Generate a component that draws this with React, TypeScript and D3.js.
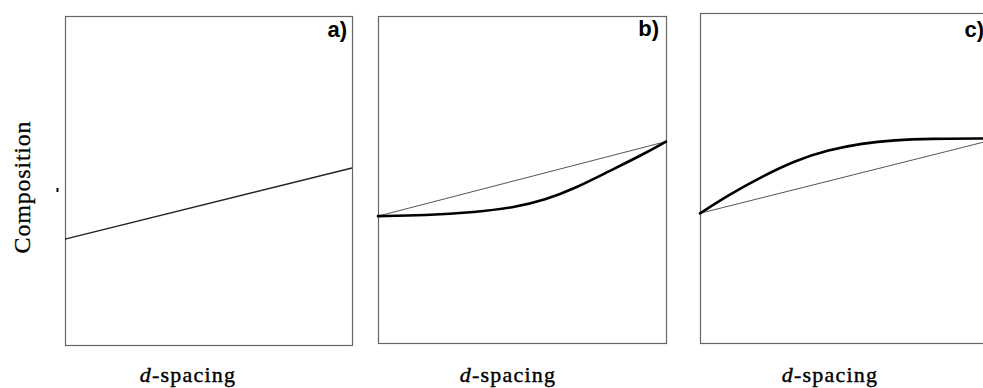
import React, { useEffect, useRef } from 'react';
import * as d3 from 'd3';

// x: relative d-spacing (0..1), y: relative composition (0..1)
const panelLabels = ['a)', 'b)', 'c)'];
const xLabel = 'spacing';
const yLabel = 'Composition';

const lineA = [
  { x: 0, y: 0.322 },
  { x: 1, y: 0.538 },
];

const chordB = [
  { x: 0, y: 0.388 },
  { x: 1, y: 0.616 },
];
const curveB = [
  { x: 0, y: 0.388 },
  { x: 0.163, y: 0.39 },
  { x: 0.337, y: 0.4 },
  { x: 0.476, y: 0.415 },
  { x: 0.58, y: 0.437 },
  { x: 0.684, y: 0.473 },
  { x: 0.799, y: 0.524 },
  { x: 0.917, y: 0.575 },
  { x: 1, y: 0.616 },
];

const chordC = [
  { x: 0, y: 0.393 },
  { x: 1, y: 0.612 },
];
const curveC = [
  { x: 0, y: 0.393 },
  { x: 0.098, y: 0.448 },
  { x: 0.214, y: 0.504 },
  { x: 0.33, y: 0.553 },
  { x: 0.446, y: 0.585 },
  { x: 0.562, y: 0.605 },
  { x: 0.677, y: 0.615 },
  { x: 0.792, y: 0.619 },
  { x: 1, y: 0.62 },
];

const App = () => {
  const svgRef = useRef(null);

  useEffect(() => {
    const svg = d3.select(svgRef.current);
    svg.selectAll('*').remove();

    const panels = [
      { left: 65, top: 16, w: 287, h: 329, labelX: 347, labelY: 37, xLabelX: 188, thin: lineA, thick: null, thinColor: '#222', thinWidth: 1.4 },
      { left: 378, top: 16, w: 288, h: 327, labelX: 659, labelY: 36, xLabelX: 508, thin: chordB, thick: curveB, thinColor: '#555', thinWidth: 1 },
      { left: 700, top: 13, w: 288, h: 330, labelX: 984, labelY: 37, xLabelX: 830, thin: chordC, thick: curveC, thinColor: '#555', thinWidth: 1 },
    ];

    panels.forEach((p, i) => {
      const x = d3.scaleLinear().domain([0, 1]).range([p.left, p.left + p.w]);
      const y = d3.scaleLinear().domain([0, 1]).range([p.top + p.h, p.top]);
      const g = svg.append('g');

      g.append('rect')
        .attr('x', p.left + 0.5)
        .attr('y', p.top + 0.5)
        .attr('width', p.w)
        .attr('height', p.h)
        .attr('fill', 'none')
        .attr('stroke', '#666')
        .attr('stroke-width', 1.2);

      const line = d3.line().x(d => x(d.x)).y(d => y(d.y));

      g.append('path')
        .attr('d', line(p.thin))
        .attr('fill', 'none')
        .attr('stroke', p.thinColor)
        .attr('stroke-width', p.thinWidth);

      if (p.thick) {
        const curve = d3.line().x(d => x(d.x)).y(d => y(d.y)).curve(d3.curveBasis);
        g.append('path')
          .attr('d', curve(p.thick))
          .attr('fill', 'none')
          .attr('stroke', '#000')
          .attr('stroke-width', 2.6)
          .attr('stroke-linecap', 'round');
      }

      g.append('text')
        .attr('x', p.labelX)
        .attr('y', p.labelY)
        .attr('text-anchor', 'end')
        .attr('font-family', 'Liberation Sans, Arial, sans-serif')
        .attr('font-weight', 'bold')
        .attr('font-size', 22)
        .text(panelLabels[i]);

      const t = g.append('text')
        .attr('x', p.xLabelX)
        .attr('y', 382)
        .attr('text-anchor', 'middle')
        .attr('font-family', 'Liberation Serif, Times New Roman, serif')
        .attr('font-size', 22)
        .attr('letter-spacing', 1.2)
        .attr('stroke', '#000')
        .attr('stroke-width', 0.4);
      t.append('tspan').attr('font-style', 'italic').text('d');
      t.append('tspan').text('-' + xLabel);
    });

    // y axis title
    svg.append('text')
      .attr('transform', 'translate(30,187) rotate(-90)')
      .attr('text-anchor', 'middle')
      .attr('font-family', 'Liberation Serif, Times New Roman, serif')
      .attr('font-size', 24)
      .attr('letter-spacing', 0.8)
      .attr('stroke', '#000')
      .attr('stroke-width', 0.3)
      .text(yLabel);

    // stray tick mark next to the first panel
    svg.append('line')
      .attr('x1', 57.5).attr('x2', 57.5)
      .attr('y1', 188).attr('y2', 192)
      .attr('stroke', '#000')
      .attr('stroke-width', 2);
  }, []);

  return (
    <svg
      ref={svgRef}
      width={983}
      height={388}
      style={{ position: 'absolute', left: 0, top: 0, background: '#fff' }}
    />
  );
};

export default App;
